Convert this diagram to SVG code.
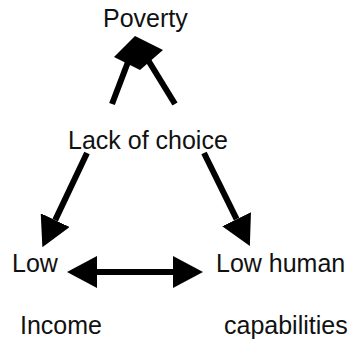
<svg xmlns="http://www.w3.org/2000/svg" width="353" height="343" viewBox="0 0 353 343">
  <style>
    .label { font-family: "Liberation Sans", Arial, sans-serif; font-size: 25px; fill: #111; }
    .shaft { stroke: #000; stroke-width: 6; fill: none; }
    .head { fill: #000; }
  </style>
  <defs>
    <marker id="arrow" markerUnits="userSpaceOnUse" viewBox="0 0 30 32" refX="0" refY="16" markerWidth="30" markerHeight="32" orient="auto-start-reverse">
      <path d="M0,0 L30,16 L0,32 Z" class="head"/>
    </marker>
  </defs>
  <rect width="353" height="343" fill="#fff"/>

  <g id="connectors">
    <!-- lack of choice leads up to poverty: a single head fed by two shafts -->
    <g id="edge-choice-poverty">
      <line class="shaft" x1="128" y1="62" x2="112" y2="104"/>
      <line class="shaft" x1="148" y1="60" x2="175" y2="104"/>
      <polygon class="head" points="135,36 163,50 140,70 114,57"/>
    </g>
    <line id="edge-choice-income" class="shaft" x1="87" y1="153" x2="55.2" y2="220.1" marker-end="url(#arrow)"/>
    <line id="edge-choice-capabilities" class="shaft" x1="204" y1="153" x2="236.6" y2="219.2" marker-end="url(#arrow)"/>
    <line id="edge-income-capabilities" class="shaft" x1="97" y1="272" x2="173" y2="272" stroke-width="7" marker-start="url(#arrow)" marker-end="url(#arrow)"/>
  </g>

  <g id="node-poverty">
    <text class="label" x="103" y="27">Poverty</text>
  </g>
  <g id="node-choice">
    <text class="label" x="68" y="149">Lack of choice</text>
  </g>
  <g id="node-income">
    <text class="label" x="12" y="272" font-size="24.5">Low</text>
    <text class="label" x="20" y="334">Income</text>
  </g>
  <g id="node-capabilities">
    <text class="label" x="216" y="272" font-size="23.5">Low human</text>
    <text class="label" x="224" y="334" font-size="24">capabilities</text>
  </g>
</svg>
